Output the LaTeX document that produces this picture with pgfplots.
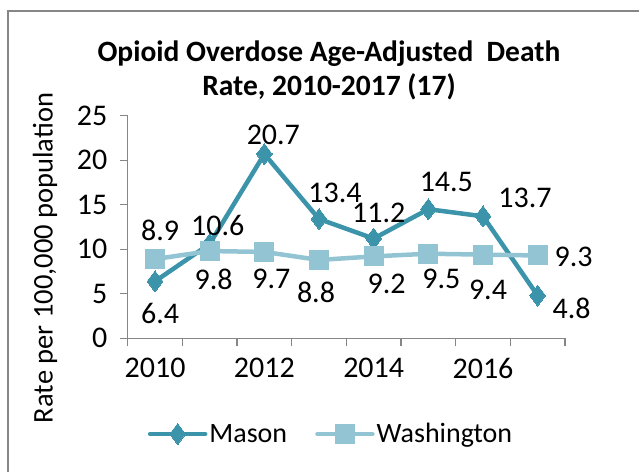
\documentclass[border=0pt]{standalone}
\usepackage{fontspec}
\setmainfont{Carlito}
\usepackage{pgfplots}
\usepackage{pgfplotstable}
\pgfplotsset{compat=1.18}

\definecolor{masonc}{RGB}{59,148,170}
\definecolor{washc}{RGB}{147,196,212}
\definecolor{axgray}{RGB}{134,134,134}

\newcommand{\lblfont}{\fontsize{30}{35}\selectfont}

% label offsets (dx, dy) from the point, in pt
\pgfplotstableread{
year val dx dy
2010 6.4 5 -32
2011 10.6 8 18
2012 20.7 9 19
2013 13.4 16 26
2014 11.2 5 26
2015 14.5 18 27
2016 13.7 42 18
2017 4.8 34 -13
}\masontab

\pgfplotstableread{
year val dx dy
2010 8.9 5 29
2011 9.8 4 -28
2012 9.7 7 -27
2013 8.8 -3 -32
2014 9.2 13 -27
2015 9.5 13 -25
2016 9.4 5 -35
2017 9.3 36 -1
}\washtab

\begin{document}
\begin{tikzpicture}[x=1pt,y=1pt]
\useasboundingbox (0pt,0pt) rectangle (639pt,-471pt);
\draw[axgray, line width=1.5pt] (8pt,-480pt) -- (8pt,-11pt) -- (650pt,-11pt);

\node[font=\bfseries\fontsize{29.5}{34}\selectfont, align=center] at (329pt,-70pt)
  {Opioid Overdose Age-Adjusted\ \ Death\\Rate, 2010-2017 (17)};

\begin{axis}[
  at={(127.7pt,-338.3pt)}, anchor=south west,
  scale only axis,
  width=437.3pt, height=222.6pt,
  xmin=2009.5, xmax=2017.5,
  ymin=0, ymax=25,
  axis lines*=left,
  axis line style={axgray, line width=1.3pt, -},
  every tick/.style={axgray, line width=1.3pt},
  tick align=outside,
  major tick length=8pt,
  xtick={2009.5,2010.5,...,2017.5},
  xticklabels={},
  extra x ticks={2010,2012,2014,2016},
  extra x tick labels={2010,2012,2014,2016},
  extra x tick style={major tick length=0pt, xticklabel style={yshift=-16pt}},
  ytick={0,5,...,25},
  tick label style={font=\lblfont, text=black},
  yticklabel style={xshift=-9pt},
  /pgf/number format/assume math mode=true,
  ylabel={Rate per 100,000 population},
  ylabel style={font=\fontsize{28.5}{33}\selectfont, at={(axis description cs:-0.189,0.361)}, anchor=center},
  clip=false,
  nodes near coords,
  point meta=explicit symbolic,
  visualization depends on={\thisrow{dx}\as\ldx},
  visualization depends on={\thisrow{dy}\as\ldy},
  every node near coord/.style={anchor=center, xshift=\ldx pt, yshift=\ldy pt,
    text=black, font=\lblfont, inner sep=0pt},
  legend columns=2,
  legend style={at={(0.465,-0.43)}, anchor=center, draw=none, fill=none,
    font=\fontsize{28}{33}\selectfont, /tikz/every even column/.append style={column sep=26pt}},
  legend image code/.code={
    \draw[#1, line cap=round] (0pt,0pt) -- (55pt,0pt);
    \draw[#1, mark size=7.5pt] plot coordinates {(27.5pt,0pt)};
  },
]
\addplot[masonc, line width=4.5pt, line join=round, mark=diamond*,
  mark options={solid, line width=0pt, mark size=10.5pt}]
  table[x=year, y=val, meta=val] {\masontab};
\addlegendentry{Mason}
\addplot[washc, line width=4.5pt, line join=round, mark=square*,
  mark options={solid, line width=0pt, mark size=9.5pt}]
  table[x=year, y=val, meta=val] {\washtab};
\addlegendentry{Washington}
\end{axis}
\end{tikzpicture}
\end{document}
